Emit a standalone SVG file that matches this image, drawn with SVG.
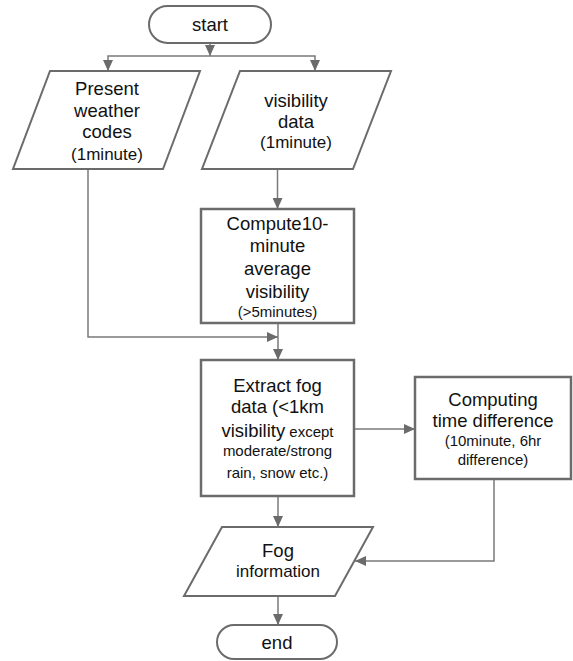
<svg xmlns="http://www.w3.org/2000/svg" width="573" height="661" viewBox="0 0 573 661">
<style>
.shape{fill:#fff;stroke:#6b6b6b;stroke-width:2}
.box{fill:#fff;stroke:#6b6b6b;stroke-width:2.5}
.conn{fill:none;stroke:#7a7a7a;stroke-width:1.5}
text{font-family:"Liberation Sans",Arial,sans-serif;fill:#111;text-anchor:middle}
.big{font-size:18.5px}
.small{font-size:17px}
.smaller{font-size:15px}
</style>
<defs>
<marker id="arr" markerUnits="userSpaceOnUse" markerWidth="11" markerHeight="10" refX="11" refY="5" orient="auto">
<path d="M0,0 L11,5 L0,10 z" fill="#6b6b6b"/>
</marker>
</defs>
<rect width="573" height="661" fill="#fff"/>
<g id="connectors">
<path class="conn" d="M210,43 V56" marker-end="url(#arr)"/>
<path class="conn" d="M210,56 H108 V71" marker-end="url(#arr)"/>
<path class="conn" d="M210,56 H315 V71" marker-end="url(#arr)"/>
<path class="conn" d="M88,169 V337 H278" marker-end="url(#arr)"/>
<path class="conn" d="M277.5,169 V209" marker-end="url(#arr)"/>
<path class="conn" d="M278,323 V360" marker-end="url(#arr)"/>
<path class="conn" d="M354,429 H415" marker-end="url(#arr)"/>
<path class="conn" d="M494,479 V561 H355" marker-end="url(#arr)"/>
<path class="conn" d="M278,496 V527" marker-end="url(#arr)"/>
<path class="conn" d="M278,596 V625" marker-end="url(#arr)"/>
</g>
<g id="start">
<rect class="shape" x="149" y="6" width="122" height="37" rx="18.5"/>
<text class="big" x="210" y="31">start</text>
</g>
<g id="present-weather">
<polygon class="shape" points="50,71 200,71 163,169 13,169"/>
<text class="big" x="107" y="95">Present</text>
<text class="big" x="107" y="117">weather</text>
<text class="big" x="107" y="138">codes</text>
<text class="small" x="107" y="160">(1minute)</text>
</g>
<g id="visibility-data">
<polygon class="shape" points="240,71 391,71 353,169 202,169"/>
<text class="big" x="296" y="107">visibility</text>
<text class="big" x="296" y="128">data</text>
<text class="small" x="296" y="148">(1minute)</text>
</g>
<g id="compute-average">
<rect class="box" x="201" y="209" width="153" height="114"/>
<text class="big" x="277.5" y="230">Compute10-</text>
<text class="big" x="277.5" y="252">minute</text>
<text class="big" x="277.5" y="275">average</text>
<text class="big" x="277.5" y="298">visibility</text>
<text class="smaller" x="277.5" y="317">(&gt;5minutes)</text>
</g>
<g id="extract-fog">
<rect class="box" x="201" y="360" width="153" height="136"/>
<text class="big" x="277.5" y="392">Extract fog</text>
<text class="big" x="277.5" y="413">data (&lt;1km</text>
<text x="277.5" y="437"><tspan class="big">visibility</tspan><tspan class="smaller"> except</tspan></text>
<text class="smaller" x="277.5" y="456">moderate/strong</text>
<text class="smaller" x="277.5" y="478">rain, snow etc.)</text>
</g>
<g id="computing-time">
<rect class="box" x="415" y="377" width="156" height="102"/>
<text class="big" x="493" y="406">Computing</text>
<text class="big" x="493" y="427">time difference</text>
<text class="smaller" x="493" y="446">(10minute, 6hr</text>
<text class="smaller" x="493" y="465">difference)</text>
</g>
<g id="fog-information">
<polygon class="shape" points="222,527 373,527 335,596 184,596"/>
<text class="big" x="278" y="557">Fog</text>
<text class="small" x="278" y="577">information</text>
</g>
<g id="end">
<rect class="shape" x="217" y="625" width="120" height="34" rx="17"/>
<text class="big" x="277" y="649">end</text>
</g>
</svg>
